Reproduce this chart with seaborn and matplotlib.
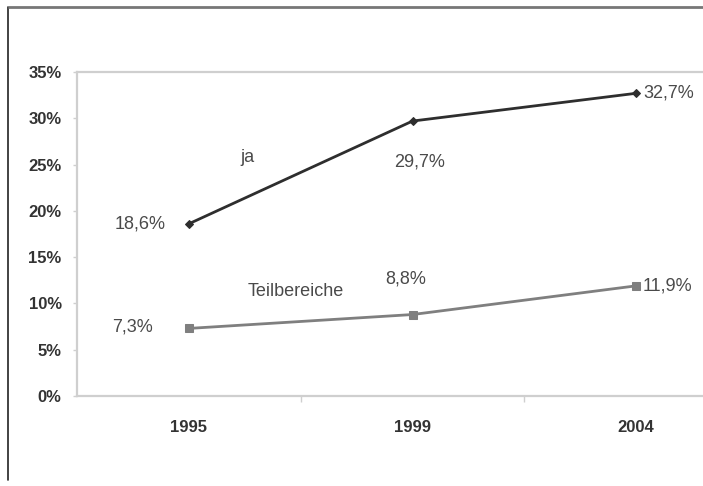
import matplotlib
matplotlib.use("Agg")
import matplotlib.pyplot as plt
import seaborn as sns
import pandas as pd
from matplotlib.ticker import FixedLocator, PercentFormatter

years = ["1995", "1999", "2004"]
ja = [18.6, 29.7, 32.7]
teilbereiche = [7.3, 8.8, 11.9]
y_ticks = [0, 5, 10, 15, 20, 25, 30, 35]

df = pd.DataFrame({
    "Jahr": years * 2,
    "Anteil": ja + teilbereiche,
    "Serie": ["ja"] * 3 + ["Teilbereiche"] * 3,
})
df["pos"] = df["Jahr"].map({y: i for i, y in enumerate(years)})

sns.set_style("white")
plt.rcParams["font.family"] = ["Liberation Sans", "DejaVu Sans"]

fig = plt.figure(figsize=(7.03, 4.86), dpi=100)
# outer frame of the graphic
fig.add_artist(plt.Line2D([8 / 703, 8 / 703], [6 / 486, 1 - 7 / 486],
                          transform=fig.transFigure, color="#222222", lw=1.2))
fig.add_artist(plt.Line2D([8 / 703, 1.01], [1 - 7 / 486, 1 - 7 / 486],
                          transform=fig.transFigure, color="#777777", lw=2.0,
                          solid_capstyle="butt"))

ax = fig.add_axes([77 / 703, 90 / 486, 671 / 703, 324 / 486])

palette = {"ja": "#2e2e2e", "Teilbereiche": "#7f7f7f"}
markers = {"ja": "D", "Teilbereiche": "s"}
sizes = {"ja": 4, "Teilbereiche": 6}
for name, sub in df.groupby("Serie", sort=False):
    sns.lineplot(data=sub, x="pos", y="Anteil", ax=ax, color=palette[name],
                 marker=markers[name], markersize=sizes[name],
                 markeredgecolor=palette[name], linewidth=2.0, legend=False)

ax.set_xlim(-0.5, 2.5)
ax.set_ylim(0, 35)
ax.yaxis.set_major_locator(FixedLocator(y_ticks))
ax.yaxis.set_major_formatter(PercentFormatter(decimals=0))
ax.set_xticks(range(len(years)))
ax.set_xticklabels(years)
ax.xaxis.set_minor_locator(FixedLocator([0.5, 1.5]))
ax.set_xlabel("")
ax.set_ylabel("")

for side in ["left", "bottom", "top", "right"]:
    ax.spines[side].set_color("#cfcfcf")
    ax.spines[side].set_linewidth(1.6)

ax.tick_params(axis="y", which="major", length=3, color="#cfcfcf", width=1,
               labelsize=12, labelcolor="#333333", pad=8, left=True)
ax.tick_params(axis="x", which="major", length=0, labelsize=12,
               labelcolor="#333333", pad=17)
ax.tick_params(axis="x", which="minor", length=4, color="#cfcfcf", width=1,
               bottom=True)
for lbl in ax.get_yticklabels() + ax.get_xticklabels():
    lbl.set_fontweight("bold")

lab = dict(fontsize=13, color="#4a4a4a")
fmt = lambda v: f"{v:.1f}%".replace(".", ",")
# value labels
ax.text(0 - 0.22, ja[0], fmt(ja[0]), ha="center", va="center", **lab)
ax.text(1 + 0.03, ja[1] - 4.4, fmt(ja[1]), ha="center", va="center", **lab)
ax.text(2 + 0.03, ja[2], fmt(ja[2]), ha="left", va="center", **lab)
ax.text(0 - 0.25, teilbereiche[0] + 0.2, fmt(teilbereiche[0]), ha="center", va="center", **lab)
ax.text(1 - 0.03, teilbereiche[1] + 3.8, fmt(teilbereiche[1]), ha="center", va="center", **lab)
ax.text(2 + 0.03, teilbereiche[2], fmt(teilbereiche[2]), ha="left", va="center", **lab)
# series names
ax.text(0.26, 25.8, "ja", ha="center", va="center", **lab)
ax.text(0.48, 11.3, "Teilbereiche", ha="center", va="center", **lab)

fig.savefig("out.png", dpi=100)
